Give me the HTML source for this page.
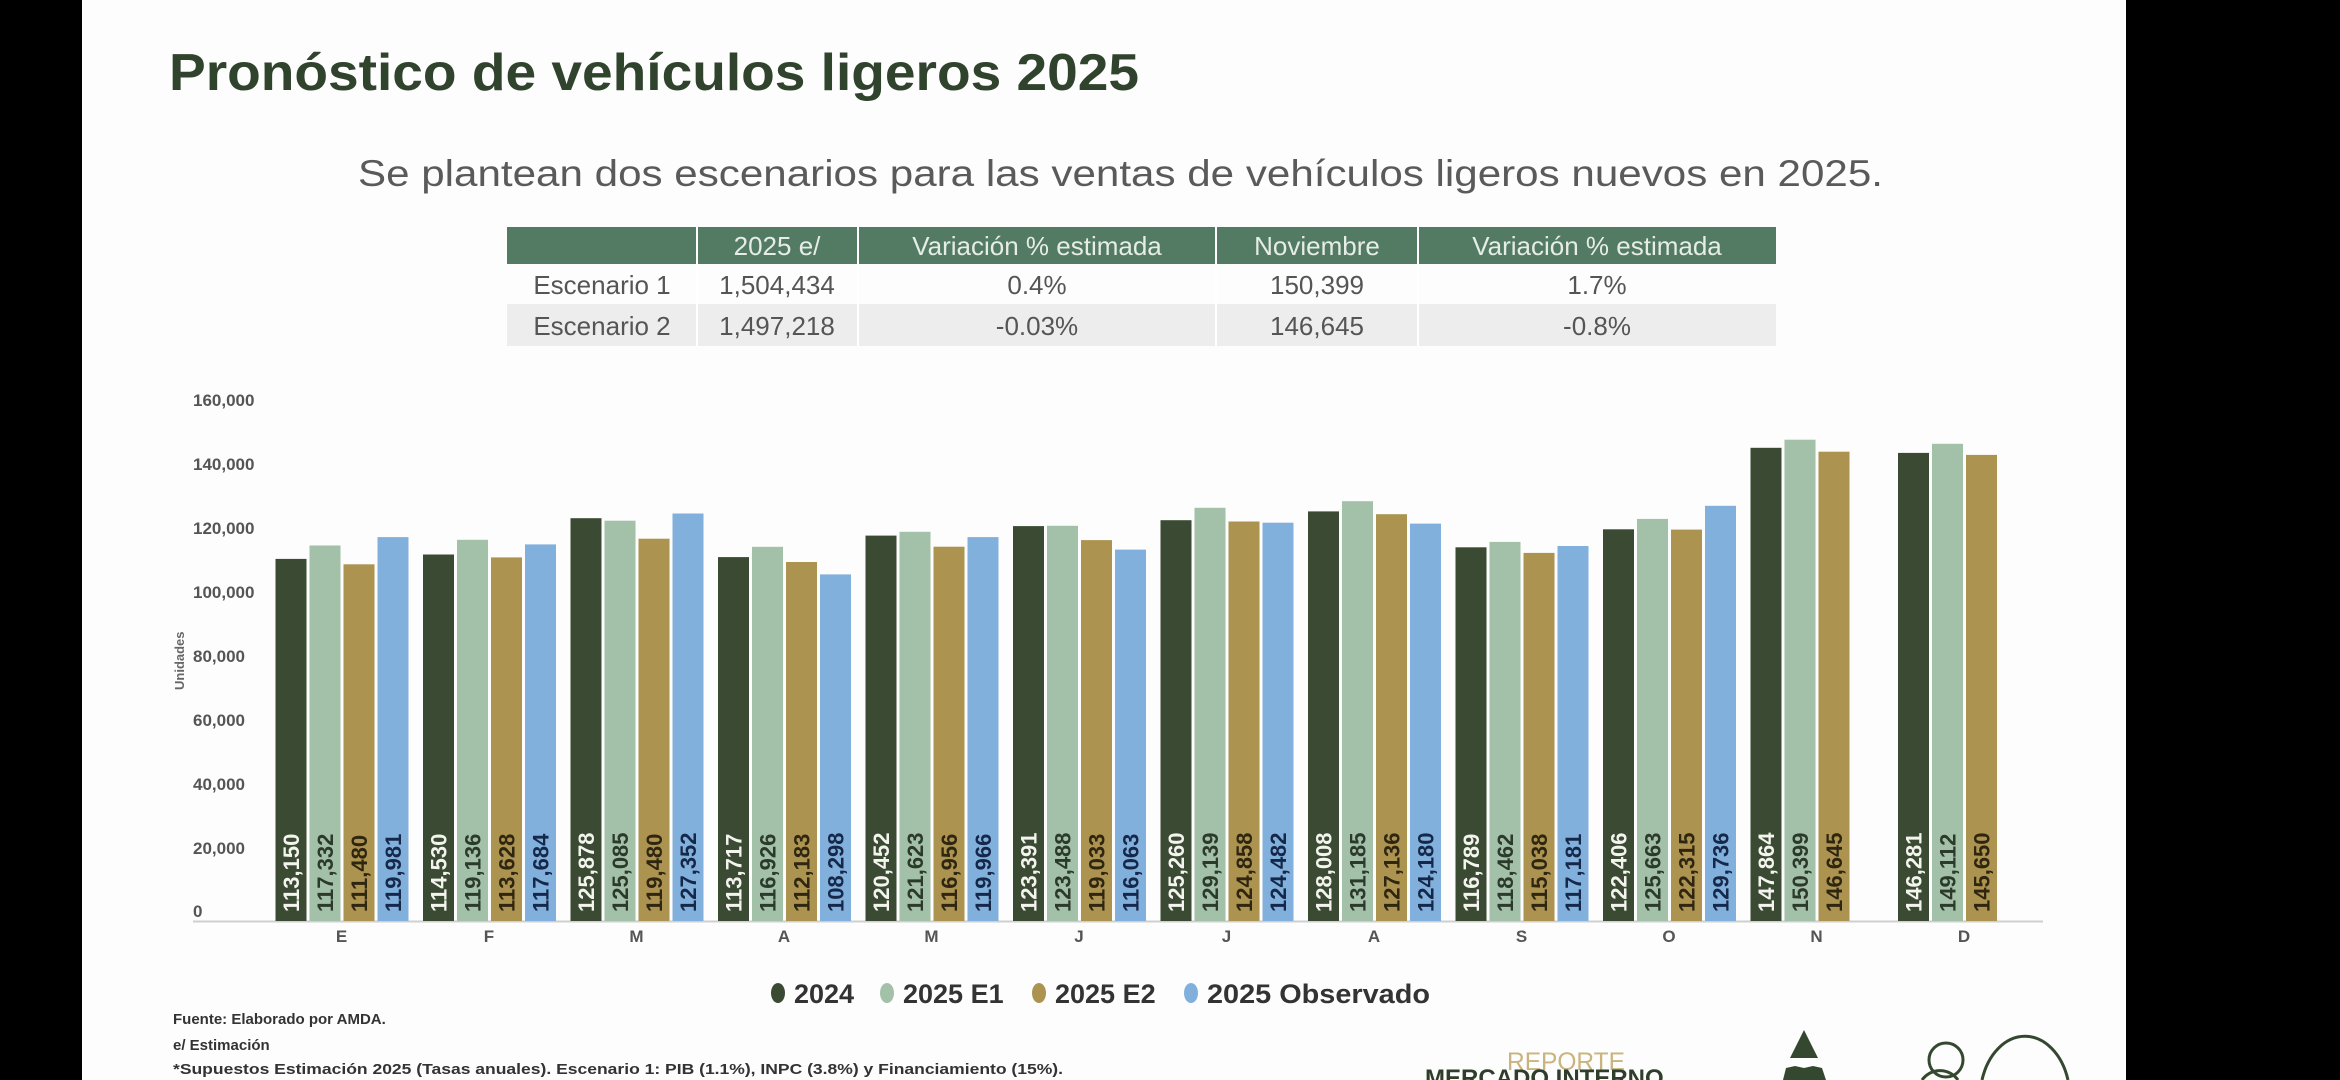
<!DOCTYPE html>
<html><head><meta charset="utf-8"><style>
html,body{margin:0;padding:0;background:#000;width:2340px;height:1080px;overflow:hidden;}
svg{display:block;overflow:hidden;}
text{font-family:"Liberation Sans",sans-serif;}
.lw{fill:#f4f4ee;font-weight:bold;font-size:22px;}
.ls{fill:#2b3a2b;font-weight:bold;font-size:22px;}
.lg{fill:#2e2610;font-weight:bold;font-size:22px;}
.lb{fill:#15284a;font-weight:bold;font-size:22px;}
.yt{fill:#555;font-weight:bold;font-size:17px;}
.ct{fill:#555;font-weight:bold;font-size:17px;text-anchor:middle;}
.th{fill:#e6ece6;font-size:26px;text-anchor:middle;}
.td{fill:#555;font-size:26px;text-anchor:middle;}
</style></head><body>
<svg width="2340" height="1080" viewBox="0 0 2340 1080" xmlns="http://www.w3.org/2000/svg">
<rect x="0" y="0" width="2340" height="1080" fill="#000"/>
<rect x="82" y="0" width="2044" height="1080" fill="#fdfdfd"/>

<text x="169" y="90" font-size="52" font-weight="bold" fill="#30432d" textLength="970" lengthAdjust="spacingAndGlyphs">Pronóstico de vehículos ligeros 2025</text>
<text x="358" y="186" font-size="37" fill="#5a5a5a" textLength="1525" lengthAdjust="spacingAndGlyphs">Se plantean dos escenarios para las ventas de vehículos ligeros nuevos en 2025.</text>

<rect x="507" y="227" width="1269" height="37" fill="#537b63"/>
<rect x="507" y="304" width="1269" height="42" fill="#ededed"/>
<g stroke="#fff" stroke-width="2">
<line x1="697" y1="227" x2="697" y2="346"/><line x1="858" y1="227" x2="858" y2="346"/>
<line x1="1216" y1="227" x2="1216" y2="346"/><line x1="1418" y1="227" x2="1418" y2="346"/>
</g>
<text class="th" x="777" y="255">2025 e/</text>
<text class="th" x="1037" y="255">Variación % estimada</text>
<text class="th" x="1317" y="255">Noviembre</text>
<text class="th" x="1597" y="255">Variación % estimada</text>
<text class="td" x="602" y="294">Escenario 1</text>
<text class="td" x="777" y="294">1,504,434</text>
<text class="td" x="1037" y="294">0.4%</text>
<text class="td" x="1317" y="294">150,399</text>
<text class="td" x="1597" y="294">1.7%</text>
<text class="td" x="602" y="335">Escenario 2</text>
<text class="td" x="777" y="335">1,497,218</text>
<text class="td" x="1037" y="335">-0.03%</text>
<text class="td" x="1317" y="335">146,645</text>
<text class="td" x="1597" y="335">-0.8%</text>

<text class="yt" x="193" y="406">160,000</text>
<text class="yt" x="193" y="470">140,000</text>
<text class="yt" x="193" y="534">120,000</text>
<text class="yt" x="193" y="598">100,000</text>
<text class="yt" x="193" y="662">80,000</text>
<text class="yt" x="193" y="726">60,000</text>
<text class="yt" x="193" y="790">40,000</text>
<text class="yt" x="193" y="854">20,000</text>
<text class="yt" x="193" y="917">0</text>
<text transform="translate(184,690) rotate(-90)" font-size="13" font-weight="bold" fill="#666">Unidades</text>
<line x1="193" y1="921.5" x2="2043" y2="921.5" stroke="#cfcfcf" stroke-width="2"/>

<g>
<rect x="275.5" y="558.9" width="31" height="362.1" fill="#3a4a33"/>
<rect x="309.5" y="545.5" width="31" height="375.5" fill="#a3c0a8"/>
<rect x="343.5" y="564.3" width="31" height="356.7" fill="#ad9350"/>
<rect x="377.5" y="537.1" width="31" height="383.9" fill="#82b0dc"/>
<rect x="423" y="554.5" width="31" height="366.5" fill="#3a4a33"/>
<rect x="457" y="539.8" width="31" height="381.2" fill="#a3c0a8"/>
<rect x="491" y="557.4" width="31" height="363.6" fill="#ad9350"/>
<rect x="525" y="544.4" width="31" height="376.6" fill="#82b0dc"/>
<rect x="570.5" y="518.2" width="31" height="402.8" fill="#3a4a33"/>
<rect x="604.5" y="520.7" width="31" height="400.3" fill="#a3c0a8"/>
<rect x="638.5" y="538.7" width="31" height="382.3" fill="#ad9350"/>
<rect x="672.5" y="513.5" width="31" height="407.5" fill="#82b0dc"/>
<rect x="718" y="557.1" width="31" height="363.9" fill="#3a4a33"/>
<rect x="752" y="546.8" width="31" height="374.2" fill="#a3c0a8"/>
<rect x="786" y="562.0" width="31" height="359.0" fill="#ad9350"/>
<rect x="820" y="574.4" width="31" height="346.6" fill="#82b0dc"/>
<rect x="865.5" y="535.6" width="31" height="385.4" fill="#3a4a33"/>
<rect x="899.5" y="531.8" width="31" height="389.2" fill="#a3c0a8"/>
<rect x="933.5" y="546.7" width="31" height="374.3" fill="#ad9350"/>
<rect x="967.5" y="537.1" width="31" height="383.9" fill="#82b0dc"/>
<rect x="1013" y="526.1" width="31" height="394.9" fill="#3a4a33"/>
<rect x="1047" y="525.8" width="31" height="395.2" fill="#a3c0a8"/>
<rect x="1081" y="540.1" width="31" height="380.9" fill="#ad9350"/>
<rect x="1115" y="549.6" width="31" height="371.4" fill="#82b0dc"/>
<rect x="1160.5" y="520.2" width="31" height="400.8" fill="#3a4a33"/>
<rect x="1194.5" y="507.8" width="31" height="413.2" fill="#a3c0a8"/>
<rect x="1228.5" y="521.5" width="31" height="399.5" fill="#ad9350"/>
<rect x="1262.5" y="522.7" width="31" height="398.3" fill="#82b0dc"/>
<rect x="1308" y="511.4" width="31" height="409.6" fill="#3a4a33"/>
<rect x="1342" y="501.2" width="31" height="419.8" fill="#a3c0a8"/>
<rect x="1376" y="514.2" width="31" height="406.8" fill="#ad9350"/>
<rect x="1410" y="523.6" width="31" height="397.4" fill="#82b0dc"/>
<rect x="1455.5" y="547.3" width="31" height="373.7" fill="#3a4a33"/>
<rect x="1489.5" y="541.9" width="31" height="379.1" fill="#a3c0a8"/>
<rect x="1523.5" y="552.9" width="31" height="368.1" fill="#ad9350"/>
<rect x="1557.5" y="546.0" width="31" height="375.0" fill="#82b0dc"/>
<rect x="1603" y="529.3" width="31" height="391.7" fill="#3a4a33"/>
<rect x="1637" y="518.9" width="31" height="402.1" fill="#a3c0a8"/>
<rect x="1671" y="529.6" width="31" height="391.4" fill="#ad9350"/>
<rect x="1705" y="505.8" width="31" height="415.2" fill="#82b0dc"/>
<rect x="1750.5" y="447.8" width="31" height="473.2" fill="#3a4a33"/>
<rect x="1784.5" y="439.7" width="31" height="481.3" fill="#a3c0a8"/>
<rect x="1818.5" y="451.7" width="31" height="469.3" fill="#ad9350"/>
<rect x="1898" y="452.9" width="31" height="468.1" fill="#3a4a33"/>
<rect x="1932" y="443.8" width="31" height="477.2" fill="#a3c0a8"/>
<rect x="1966" y="454.9" width="31" height="466.1" fill="#ad9350"/>
</g>

<g>
<text class="lw" transform="translate(299,912) rotate(-90)">113,150</text>
<text class="ls" transform="translate(333,912) rotate(-90)">117,332</text>
<text class="lg" transform="translate(367,912) rotate(-90)">111,480</text>
<text class="lb" transform="translate(401,912) rotate(-90)">119,981</text>
<text class="lw" transform="translate(446.5,912) rotate(-90)">114,530</text>
<text class="ls" transform="translate(480.5,912) rotate(-90)">119,136</text>
<text class="lg" transform="translate(514.5,912) rotate(-90)">113,628</text>
<text class="lb" transform="translate(548.5,912) rotate(-90)">117,684</text>
<text class="lw" transform="translate(594,912) rotate(-90)">125,878</text>
<text class="ls" transform="translate(628,912) rotate(-90)">125,085</text>
<text class="lg" transform="translate(662,912) rotate(-90)">119,480</text>
<text class="lb" transform="translate(696,912) rotate(-90)">127,352</text>
<text class="lw" transform="translate(741.5,912) rotate(-90)">113,717</text>
<text class="ls" transform="translate(775.5,912) rotate(-90)">116,926</text>
<text class="lg" transform="translate(809.5,912) rotate(-90)">112,183</text>
<text class="lb" transform="translate(843.5,912) rotate(-90)">108,298</text>
<text class="lw" transform="translate(889,912) rotate(-90)">120,452</text>
<text class="ls" transform="translate(923,912) rotate(-90)">121,623</text>
<text class="lg" transform="translate(957,912) rotate(-90)">116,956</text>
<text class="lb" transform="translate(991,912) rotate(-90)">119,966</text>
<text class="lw" transform="translate(1036.5,912) rotate(-90)">123,391</text>
<text class="ls" transform="translate(1070.5,912) rotate(-90)">123,488</text>
<text class="lg" transform="translate(1104.5,912) rotate(-90)">119,033</text>
<text class="lb" transform="translate(1138.5,912) rotate(-90)">116,063</text>
<text class="lw" transform="translate(1184,912) rotate(-90)">125,260</text>
<text class="ls" transform="translate(1218,912) rotate(-90)">129,139</text>
<text class="lg" transform="translate(1252,912) rotate(-90)">124,858</text>
<text class="lb" transform="translate(1286,912) rotate(-90)">124,482</text>
<text class="lw" transform="translate(1331.5,912) rotate(-90)">128,008</text>
<text class="ls" transform="translate(1365.5,912) rotate(-90)">131,185</text>
<text class="lg" transform="translate(1399.5,912) rotate(-90)">127,136</text>
<text class="lb" transform="translate(1433.5,912) rotate(-90)">124,180</text>
<text class="lw" transform="translate(1479,912) rotate(-90)">116,789</text>
<text class="ls" transform="translate(1513,912) rotate(-90)">118,462</text>
<text class="lg" transform="translate(1547,912) rotate(-90)">115,038</text>
<text class="lb" transform="translate(1581,912) rotate(-90)">117,181</text>
<text class="lw" transform="translate(1626.5,912) rotate(-90)">122,406</text>
<text class="ls" transform="translate(1660.5,912) rotate(-90)">125,663</text>
<text class="lg" transform="translate(1694.5,912) rotate(-90)">122,315</text>
<text class="lb" transform="translate(1728.5,912) rotate(-90)">129,736</text>
<text class="lw" transform="translate(1774,912) rotate(-90)">147,864</text>
<text class="ls" transform="translate(1808,912) rotate(-90)">150,399</text>
<text class="lg" transform="translate(1842,912) rotate(-90)">146,645</text>
<text class="lw" transform="translate(1921.5,912) rotate(-90)">146,281</text>
<text class="ls" transform="translate(1955.5,912) rotate(-90)">149,112</text>
<text class="lg" transform="translate(1989.5,912) rotate(-90)">145,650</text>
</g>

<text class="ct" x="341.5" y="942">E</text>
<text class="ct" x="489" y="942">F</text>
<text class="ct" x="636.5" y="942">M</text>
<text class="ct" x="784" y="942">A</text>
<text class="ct" x="931.5" y="942">M</text>
<text class="ct" x="1079" y="942">J</text>
<text class="ct" x="1226.5" y="942">J</text>
<text class="ct" x="1374" y="942">A</text>
<text class="ct" x="1521.5" y="942">S</text>
<text class="ct" x="1669" y="942">O</text>
<text class="ct" x="1816.5" y="942">N</text>
<text class="ct" x="1964" y="942">D</text>

<ellipse cx="778" cy="993" rx="7" ry="10" fill="#3a4a33"/>
<text x="794" y="1003" font-size="27" font-weight="bold" fill="#333">2024</text>
<ellipse cx="887" cy="993" rx="7" ry="10" fill="#a3c0a8"/>
<text x="903" y="1003" font-size="27" font-weight="bold" fill="#333">2025 E1</text>
<ellipse cx="1039" cy="993" rx="7" ry="10" fill="#ad9350"/>
<text x="1055" y="1003" font-size="27" font-weight="bold" fill="#333">2025 E2</text>
<ellipse cx="1191" cy="993" rx="7" ry="10" fill="#82b0dc"/>
<text x="1207" y="1003" font-size="27" font-weight="bold" fill="#333" textLength="223" lengthAdjust="spacingAndGlyphs">2025 Observado</text>

<text x="173" y="1024" font-size="15" font-weight="bold" fill="#333">Fuente: Elaborado por AMDA.</text>
<text x="173" y="1050" font-size="15" font-weight="bold" fill="#333">e/ Estimación</text>
<text x="173" y="1074" font-size="15" font-weight="bold" fill="#333" textLength="890" lengthAdjust="spacingAndGlyphs">*Supuestos Estimación 2025 (Tasas anuales). Escenario 1: PIB (1.1%), INPC (3.8%) y Financiamiento (15%).</text>

<text x="1507" y="1070" font-size="25" fill="#c8b47c" textLength="118" lengthAdjust="spacingAndGlyphs">REPORTE</text>
<text x="1425" y="1086" font-size="24" font-weight="bold" fill="#2f3d2b">MERCADO INTERNO</text>
<polygon points="1804,1030 1790,1058 1818,1058" fill="#34482f"/>
<polygon points="1783,1080 1786,1068 1795,1066 1804,1068 1813,1066 1822,1068 1826,1080" fill="#34482f"/>
<circle cx="1946" cy="1060" r="17" fill="none" stroke="#34482f" stroke-width="3"/>
<path d="M1922,1080 A22,22 0 0 1 1958,1080" fill="none" stroke="#34482f" stroke-width="3"/>
<path d="M1982,1080 A45,62 0 0 1 2068,1080" fill="none" stroke="#34482f" stroke-width="3"/>
</svg>
</body></html>
